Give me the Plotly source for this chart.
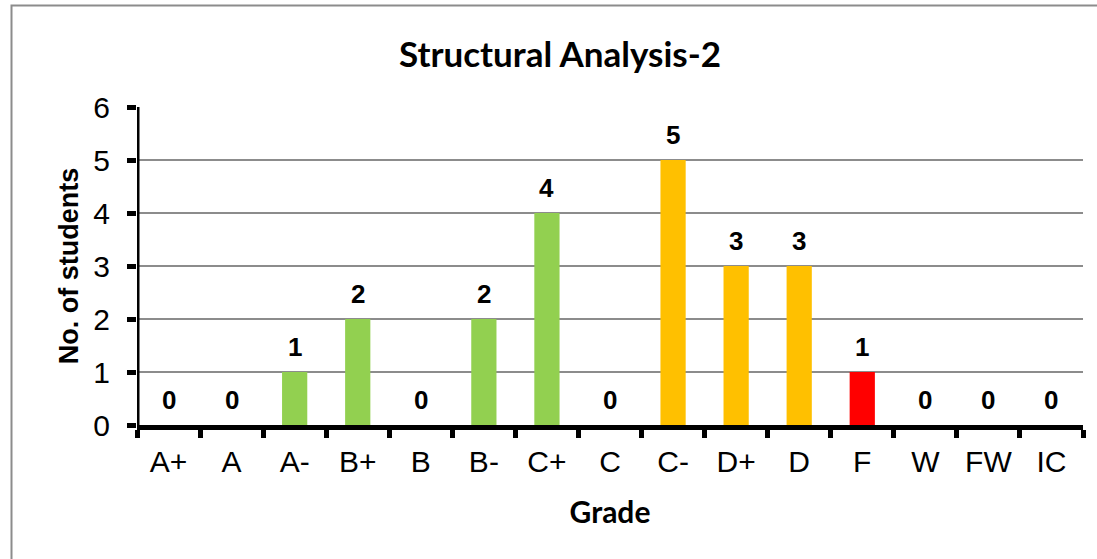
import plotly.graph_objects as go

grades = ["A+", "A", "A-", "B+", "B", "B-", "C+", "C", "C-", "D+", "D", "F", "W", "FW", "IC"]
students = [0, 0, 1, 2, 0, 2, 4, 0, 5, 3, 3, 1, 0, 0, 0]
bar_colors = ["#92D050"] * 8 + ["#FFC000"] * 3 + ["#FF0000"] + ["#92D050"] * 3

title_text = "Structural Analysis-2"
x_title = "Grade"
y_title = "No. of students"
y_max = 6

W, H = 1097, 559
L, R, T, B = 137, 14, 107, 134
pw, ph = W - L - R, H - T - B

fig = go.Figure()
fig.add_trace(go.Bar(
    x=grades, y=students, marker=dict(color=bar_colors, line=dict(width=0)),
    width=0.4, hoverinfo="x+y", showlegend=False,
))

for g, v in zip(grades, students):
    fig.add_annotation(x=g, y=v, text=f"<b>{v}</b>", showarrow=False, yshift=25,
                       font=dict(family="Liberation Sans, Arial", size=26, color="black"))

fig.update_layout(
    width=W, height=H,
    margin=dict(l=L, r=R, t=T, b=B),
    plot_bgcolor="white", paper_bgcolor="white",
    title=dict(text=f"<b>{title_text}</b>", x=(560 - L) / pw, xref="paper", xanchor="center",
               y=1 - 55 / H, yanchor="middle", yref="container",
               font=dict(family="Lato, Carlito, Calibri, sans-serif", size=35, color="black")),
    xaxis=dict(
        range=[-0.5, len(grades) - 0.5],
        showline=True, linecolor="black", linewidth=5,
        ticks="outside", tickson="boundaries", ticklen=8, tickwidth=5, tickcolor="black",
        ticklabelstandoff=6,
        tickfont=dict(family="Liberation Sans, Arial", size=30, color="black"),
        title=dict(text=f"<b>{x_title}</b>", standoff=26,
                   font=dict(family="Lato, Carlito, Calibri, sans-serif", size=30, color="black")),
        showgrid=False,
    ),
    yaxis=dict(
        range=[0, y_max], dtick=1,
        showline=False,
        ticks="outside", ticklen=9, tickwidth=5, tickcolor="black",
        ticklabelstandoff=11,
        tickfont=dict(family="Liberation Sans, Arial", size=30, color="black"),
        showgrid=True, gridcolor="#8C8C8C", gridwidth=2,
        zeroline=False,
        title=dict(text=f"<b>{y_title}</b>", standoff=6,
                   font=dict(family="Liberation Sans, Arial", size=27, color="black")),
    ),
    shapes=[
        dict(type="rect", xref="paper", yref="paper",
             x0=(11.5 - L) / pw, x1=(W + 10 - L) / pw,
             y0=-(H + 10 - T - ph) / ph, y1=(ph + T - 5.5) / ph,
             line=dict(color="#8C8C8C", width=2), layer="below"),
        dict(type="line", xref="x", yref="y", x0=-0.5, x1=-0.5, y0=0, y1=y_max,
             line=dict(color="black", width=5), layer="above"),
    ],
)

fig.write_html("out.html", config={"displayModeBar": False},
               post_script="document.body.style.margin='0';document.body.style.overflow='hidden';")
